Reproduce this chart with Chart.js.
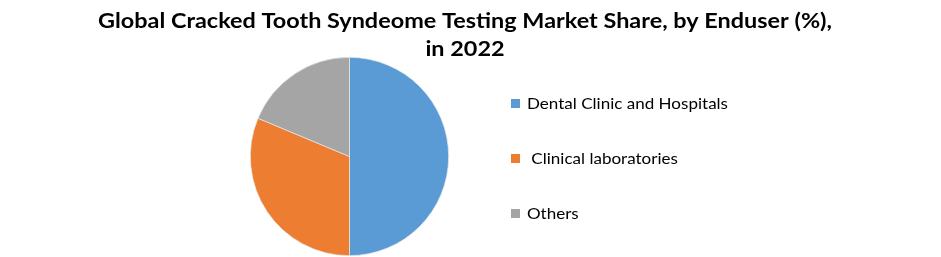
<!DOCTYPE html>
<html>
<head>
<meta charset="utf-8">
<script src="https://cdn.jsdelivr.net/npm/chart.js@4.4.0/dist/chart.umd.min.js"></script>
<style>
  html, body { margin: 0; padding: 0; background: #fff; }
  #wrap { width: 941px; height: 257px; }
</style>
</head>
<body>
<div id="wrap"><canvas id="chart" width="941" height="257"></canvas></div>
<script>
const titleLines = ['Global Cracked Tooth Syndeome Testing Market Share, by Enduser (%),', 'in 2022'];
const categories = ['Dental Clinic and Hospitals', ' Clinical laboratories', 'Others'];
const shares = [50, 31.3, 18.7];
const colors = ['#5B9BD5', '#ED7D31', '#A5A5A5'];

// the original picture is a bit wider than its font, so text gets stretched sideways
function stretchText(ctx, txt, x, y, sx) {
  ctx.save();
  ctx.translate(x, y);
  ctx.scale(sx, 1);
  ctx.fillText(txt, 0, 0);
  ctx.restore();
}

const textPlugin = {
  id: 'textPlugin',
  afterDraw(chart) {
    const ctx = chart.ctx;
    ctx.save();
    ctx.fillStyle = '#000';
    ctx.textBaseline = 'middle';
    ctx.textAlign = 'center';
    ctx.font = 'bold 20px Lato';
    const tsx = 734 / ctx.measureText(titleLines[0]).width;
    stretchText(ctx, titleLines[0], 465, 22, tsx);
    stretchText(ctx, titleLines[1], 465, 50, tsx);

    ctx.textAlign = 'left';
    ctx.font = '16px Lato';
    const lsx = 201 / ctx.measureText(categories[0]).width;
    const ys = [104, 159, 214];
    chart.data.labels.forEach((lbl, i) => {
      ctx.fillStyle = chart.data.datasets[0].backgroundColor[i];
      ctx.fillRect(511, ys[i] - 5, 9, 9);
      ctx.fillStyle = '#000';
      stretchText(ctx, lbl, 527, ys[i], lsx);
    });
    ctx.restore();
  }
};

new Chart(document.getElementById('chart'), {
  type: 'pie',
  data: {
    labels: categories,
    datasets: [{
      data: shares,
      backgroundColor: colors,
      borderColor: '#e8e8e8',
      borderWidth: 0.7
    }]
  },
  options: {
    responsive: false,
    animation: false,
    layout: { padding: { left: 250, right: 492, top: 57, bottom: 1 } },
    plugins: {
      legend: { display: false },
      title: { display: false },
      tooltip: { enabled: false }
    }
  },
  plugins: [textPlugin]
});
</script>
</body>
</html>
